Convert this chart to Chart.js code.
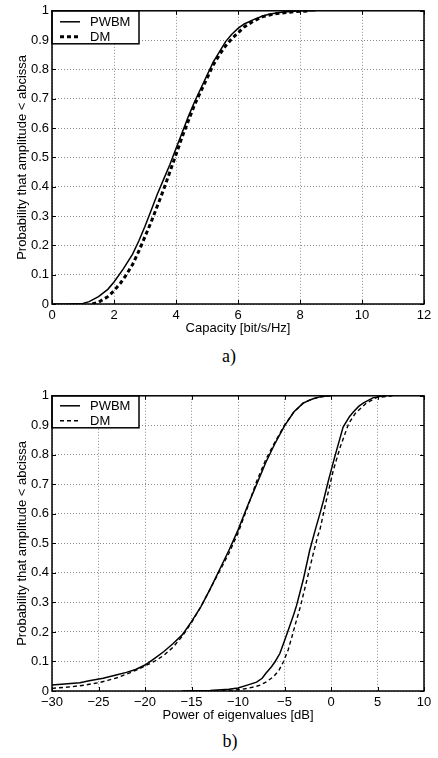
<!DOCTYPE html>
<html><head><meta charset="utf-8">
<script src="https://cdn.jsdelivr.net/npm/chart.js@4.4.1/dist/chart.umd.min.js"></script>
<style>
html,body{margin:0;padding:0;background:#fff;width:438px;height:758px;overflow:hidden;}
.wrap{position:absolute;left:0;width:438px;height:345px;}
.cap{position:absolute;width:100px;text-align:center;font-family:"Liberation Serif","Times New Roman",serif;font-size:18px;line-height:18px;color:#000;}
</style></head><body>
<div class="wrap" style="top:0px;"><canvas id="c1" width="438" height="345"></canvas></div>
<div class="wrap" style="top:385px;"><canvas id="c2" width="438" height="345"></canvas></div>
<div class="cap" style="left:179px;top:347px;">a)</div>
<div class="cap" style="left:180px;top:732px;">b)</div>
<script>
// ---- tick labels ----
const yTicks = [0, 0.1, 0.2, 0.3, 0.4, 0.5, 0.6, 0.7, 0.8, 0.9, 1];
const capTicks = [0, 2, 4, 6, 8, 10, 12];
const powTicks = [-30, -25, -20, -15, -10, -5, 0, 5, 10];

// ---- a) capacity CDF ----
const capPWBM_x = [0, 0.5, 1.0, 1.2, 1.5, 1.8, 2.0, 2.3, 2.6, 2.8, 3.0, 3.2, 3.4, 3.6, 3.8, 4.0, 4.2, 4.4, 4.6, 4.8, 5.0, 5.2, 5.4, 5.6, 5.8, 6.0, 6.2, 6.5, 6.8, 7.0, 7.4, 8.0, 8.5];
const capPWBM_y = [0, 0, 0.002, 0.008, 0.025, 0.05, 0.075, 0.12, 0.17, 0.215, 0.265, 0.32, 0.375, 0.425, 0.475, 0.53, 0.585, 0.64, 0.69, 0.735, 0.78, 0.825, 0.86, 0.895, 0.92, 0.94, 0.955, 0.97, 0.982, 0.988, 0.995, 1.0, 1.0];
const capDM_x = [1.3, 1.5, 1.8, 2.0, 2.2, 2.4, 2.6, 2.8, 3.0, 3.2, 3.4, 3.6, 3.8, 4.0, 4.2, 4.4, 4.6, 4.8, 5.0, 5.2, 5.4, 5.6, 5.8, 6.0, 6.2, 6.5, 6.8, 7.2, 7.8, 8.3];
const capDM_y = [0, 0.006, 0.025, 0.045, 0.07, 0.1, 0.135, 0.18, 0.23, 0.28, 0.335, 0.39, 0.45, 0.51, 0.57, 0.625, 0.68, 0.725, 0.77, 0.815, 0.85, 0.88, 0.905, 0.925, 0.945, 0.965, 0.98, 0.99, 0.997, 1.0];

// ---- b) eigenvalue power CDF ----
const eig1PWBM_x = [-30, -28, -27, -26, -24.5, -23, -22, -21, -20, -19, -18, -17, -16, -15, -14, -13, -12, -11, -10, -9, -8, -7, -6, -5, -4, -3, -2, -1, -0.3];
const eig1PWBM_y = [0.02, 0.025, 0.028, 0.035, 0.043, 0.055, 0.063, 0.073, 0.088, 0.11, 0.133, 0.16, 0.19, 0.235, 0.285, 0.345, 0.41, 0.475, 0.545, 0.625, 0.7, 0.775, 0.84, 0.898, 0.945, 0.975, 0.989, 0.998, 1.0];
const eig1DM_x = [-30, -28, -26.5, -25, -24, -23, -22, -21, -20, -19, -18, -17, -16, -15, -14, -13, -12, -11, -10, -9, -8, -7, -6, -5, -4, -3, -2, -1, 0];
const eig1DM_y = [0.009, 0.014, 0.02, 0.028, 0.036, 0.045, 0.057, 0.07, 0.085, 0.1, 0.12, 0.148, 0.185, 0.232, 0.285, 0.345, 0.405, 0.465, 0.535, 0.62, 0.71, 0.785, 0.845, 0.9, 0.945, 0.975, 0.99, 0.997, 1.0];
const eig2PWBM_x = [-16, -13, -11, -10, -9, -8, -7.4, -7, -6.4, -6, -5.5, -5, -4.6, -4, -3.7, -3, -2.3, -1.7, -1.2, -0.8, -0.3, 0.4, 1, 1.3, 2, 2.4, 3, 3.5, 4.5, 5.5, 6];
const eig2PWBM_y = [0, 0.002, 0.006, 0.01, 0.02, 0.03, 0.043, 0.06, 0.082, 0.1, 0.127, 0.17, 0.206, 0.26, 0.29, 0.375, 0.475, 0.545, 0.6, 0.646, 0.71, 0.793, 0.86, 0.894, 0.93, 0.945, 0.965, 0.976, 0.993, 0.999, 1.0];
const eig2DM_x = [-14, -11, -10, -9, -8, -7.6, -7, -6.2, -5.6, -5.1, -4.6, -4.2, -3.8, -3.3, -2.6, -1.9, -1.4, -1.2, -0.5, 0.25, 1, 1.9, 2.6, 3.8, 4.9, 6.6];
const eig2DM_y = [0, 0.002, 0.004, 0.009, 0.016, 0.02, 0.03, 0.048, 0.07, 0.1, 0.14, 0.184, 0.23, 0.285, 0.375, 0.466, 0.528, 0.545, 0.646, 0.748, 0.827, 0.906, 0.94, 0.975, 0.994, 1.0];

function pts(xs, ys) { return xs.map((x, i) => ({ x: x, y: ys[i] })); }
function fmtNum(v) {
  const r = Math.round(v * 10) / 10;
  return r < 0 ? '\u2212' + String(-r) : String(r);
}
const FONT = { family: '"Liberation Sans", Arial, Helvetica, sans-serif', size: 13 };

const framePlugin = {
  id: 'frame',
  afterDatasetsDraw(chart, args, opts) {
    const ctx = chart.ctx, a = chart.chartArea, sx = chart.scales.x, sy = chart.scales.y;
    ctx.save();
    ctx.setLineDash([]);
    ctx.strokeStyle = '#000';
    ctx.lineWidth = 1;
    const L = 4;
    const seg = (x1, y1, x2, y2) => { ctx.beginPath(); ctx.moveTo(x1, y1); ctx.lineTo(x2, y2); ctx.stroke(); };
    sx.ticks.forEach(t => {
      const px = Math.round(sx.getPixelForValue(t.value)) + 0.5;
      seg(px, a.bottom, px, a.bottom - L);
      seg(px, a.top, px, a.top + L);
    });
    sy.ticks.forEach(t => {
      const py = Math.round(sy.getPixelForValue(t.value)) + 0.5;
      seg(a.left, py, a.left + L, py);
      seg(a.right, py, a.right - L, py);
    });
    // legend box
    const seen = {};
    const items = [];
    chart.data.datasets.forEach(d => { if (!seen[d.label]) { seen[d.label] = 1; items.push(d); } });
    const bx = a.left, by = a.top, bw = 87, bh = opts.boxH;
    ctx.fillStyle = '#fff';
    ctx.fillRect(bx, by, bw, bh);
    ctx.lineWidth = 1.5;
    ctx.strokeRect(bx, by, bw, bh);
    ctx.font = '13px ' + FONT.family;
    ctx.textBaseline = 'middle';
    ctx.textAlign = 'left';
    items.forEach((d, i) => {
      const yy = by + opts.rows[i];
      ctx.lineWidth = d.borderWidth;
      ctx.setLineDash(d.borderDash || []);
      ctx.strokeStyle = '#000';
      seg(bx + 8, yy, bx + 28, yy);
      ctx.setLineDash([]);
      ctx.fillStyle = '#000';
      ctx.fillText(d.label, bx + 38, yy + 0.5);
    });
    // axes box
    ctx.lineWidth = 1.5;
    ctx.strokeRect(a.left, a.top, a.right - a.left, a.bottom - a.top);
    ctx.restore();
  }
};

function makeChart(id, cfg) {
  return new Chart(document.getElementById(id), {
    type: 'scatter',
    data: { datasets: cfg.datasets },
    plugins: [framePlugin],
    options: {
      responsive: false,
      animation: false,
      layout: { padding: { top: cfg.padTop, right: 14, left: 0, bottom: 0 } },
      elements: { point: { radius: 0 }, line: { tension: 0 } },
      plugins: { legend: { display: false }, tooltip: { enabled: false }, frame: { boxH: cfg.boxH, rows: cfg.rows } },
      scales: {
        x: {
          type: 'linear', min: cfg.xMin, max: cfg.xMax,
          afterBuildTicks: s => { s.ticks = cfg.xTicks.map(v => ({ value: v })); },
          afterFit: s => { s.height = cfg.xH; },
          ticks: { font: FONT, color: '#000', padding: 4, maxRotation: 0, autoSkip: false, callback: v => fmtNum(v) },
          grid: { color: '#8c8c8c', lineWidth: 1, drawTicks: false },
          border: { display: false, dash: [1, 2] },
          title: { display: true, text: cfg.xTitle, font: FONT, color: '#000', padding: { top: 0, bottom: cfg.xTitlePad } }
        },
        y: {
          type: 'linear', min: 0, max: 1,
          afterBuildTicks: s => { s.ticks = yTicks.map(v => ({ value: v })); },
          afterFit: s => { s.width = 52; },
          ticks: { font: FONT, color: '#000', padding: 3, autoSkip: false, callback: v => fmtNum(v) },
          grid: { color: '#8c8c8c', lineWidth: 1, drawTicks: false },
          border: { display: false, dash: [1, 2] },
          title: { display: true, text: 'Probability that amplitude < abcissa', font: FONT, color: '#000', padding: { top: 15, bottom: 0 } }
        }
      }
    }
  });
}

makeChart('c1', {
  padTop: 8, xH: 41, xMin: 0, xMax: 12, xTicks: capTicks, xTitle: 'Capacity [bit/s/Hz]', xTitlePad: 9,
  boxH: 33, rows: [11, 26],
  datasets: [
    { label: 'PWBM', data: pts(capPWBM_x, capPWBM_y), showLine: true, borderColor: '#000', borderWidth: 1.5, borderDash: [] },
    { label: 'DM', data: pts(capDM_x, capDM_y), showLine: true, borderColor: '#000', borderWidth: 3, borderDash: [4, 3] }
  ]
});

makeChart('c2', {
  padTop: 10.7, xH: 39, xMin: -30, xMax: 10, xTicks: powTicks, xTitle: 'Power of eigenvalues [dB]', xTitlePad: 7,
  boxH: 32, rows: [10, 25],
  datasets: [
    { label: 'PWBM', data: pts(eig1PWBM_x, eig1PWBM_y), showLine: true, borderColor: '#000', borderWidth: 1.5, borderDash: [] },
    { label: 'DM', data: pts(eig1DM_x, eig1DM_y), showLine: true, borderColor: '#000', borderWidth: 1.4, borderDash: [4, 3] },
    { label: 'PWBM', data: pts(eig2PWBM_x, eig2PWBM_y), showLine: true, borderColor: '#000', borderWidth: 1.5, borderDash: [] },
    { label: 'DM', data: pts(eig2DM_x, eig2DM_y), showLine: true, borderColor: '#000', borderWidth: 1.4, borderDash: [4, 3] }
  ]
});
</script>
</body></html>
